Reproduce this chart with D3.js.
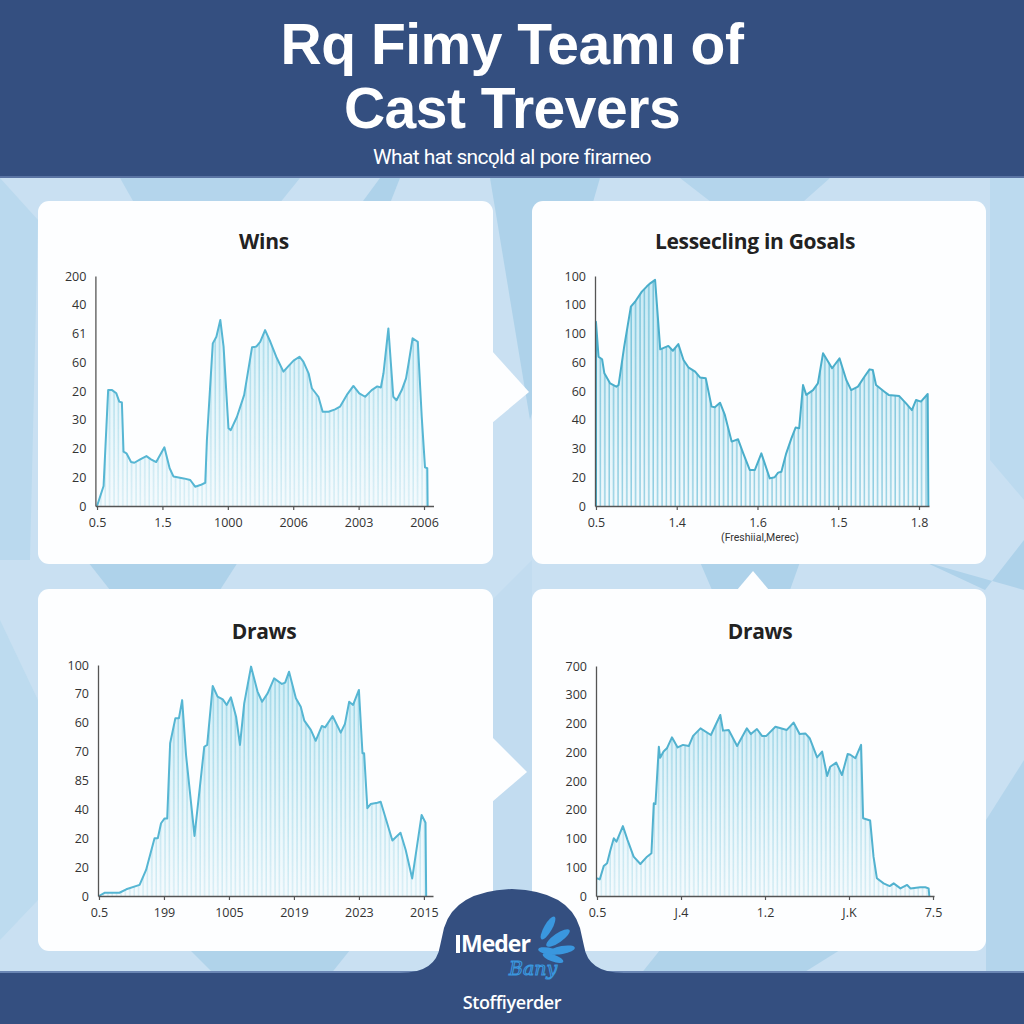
<!DOCTYPE html>
<html><head><meta charset="utf-8">
<script src="https://cdn.jsdelivr.net/npm/d3@7"></script>
<style>
html,body{margin:0;padding:0;background:#c9e0f2;}
svg{display:block;}
</style></head>
<body>
<svg id="chart" width="1024" height="1024"></svg>
<script>
// ---------- DATA ----------
const titleLines = ["Rq Fimy Teamı of", "Cast Trevers"];
const subtitle = "What hat sncǫld al pore firarneo";
const panelTitles = ["Wins", "Lessecling in Gosals", "Draws", "Draws"];
const panel2XLabel = "(Freshiial,Merec)";
const logoMain = "Meder";
const logoScript = "Bany";
const logoSub = "Stoffiyerder";

const winsYTicks = ["0","20","20","30","20","60","61","40","200"];
const winsXTicks = ["0.5","1.5","1000","2006","2003","2006"];
const winsX = [0,2.0,3.4,4.6,5.9,6.8,7.6,8.1,9.0,10.4,11.4,13.2,15.1,16.5,18.1,20.6,22.2,23.4,26.5,28.5,30.0,31.6,33.1,33.6,35.4,36.5,37.7,38.7,40.2,40.9,42.8,45.0,47.4,48.7,49.9,51.4,53.0,54.8,57.0,58.6,60.1,61.9,63.1,64.7,65.7,67.7,69.0,70.8,72.8,74.3,76.4,78.4,80.2,82.0,84.0,85.7,86.8,87.6,89.1,90.6,91.6,93.2,94.5,95.2,96.5,98.1,99.3,100.3,101.0,101.1];
const winsY = [0,8.7,50.4,50.4,49,45.4,45,23.6,22.9,19.1,18.8,20.3,21.7,20.3,19.1,25.5,16.4,12.8,12,11.3,8.4,9.1,10.1,28.7,70.7,73.6,80.9,69.3,33.8,33,38.8,48.3,69,69.3,71.4,76.5,71.4,64.9,58.4,60.9,63.2,64.9,62.8,57.7,51.2,47.5,41,41,42,43.2,48.3,52.2,49,47.5,50.4,52,51.5,57.7,77.2,47.5,46,50.4,55.5,61.3,72.9,71.4,38.8,16.8,16.4,0];

const goalsYTicks = ["0","20","30","40","60","60","100","100","100"];
const goalsXTicks = ["0.5","1.4","1.6","1.5","1.8"];
const goalsX = [0,0,0.8,1.9,2.6,4.4,6.3,7.0,8.7,10.8,12.1,14.2,15.7,16.8,18.3,19.9,22.4,23.8,25.5,27.1,28.6,30.7,32.2,34.0,35.8,36.8,38.4,39.9,42.0,44.0,45.6,47.6,49.2,51.2,53.8,55.3,56.4,57.4,58.9,60.5,61.8,62.9,64.1,65.1,67.2,68.7,70.3,73.1,75.4,77.5,79.0,81.1,83.1,84.7,85.7,86.7,89.3,90.6,93.9,96.0,97.8,99.1,100.6,102.7,102.9];
const goalsY = [0,80.1,64.9,63.8,57.7,53.3,51.9,52.6,69,86.7,88.8,93.2,95.4,96.8,98.3,68.1,69.6,67.5,70.4,63.5,60.3,58.4,55.9,55.5,43.2,42.9,44.9,39.6,28,29,22.9,15.7,15.7,22.9,12,12.5,14.5,14.9,22.9,29.4,34.1,33.8,52.6,48.3,50.4,53.3,66.4,59.9,64.2,54.8,50.4,51.9,56.2,59.4,59.1,52.6,49.7,48.3,47.8,44.6,41.7,46.1,45.4,48.7,0];

const drawsAYTicks = ["0","20","20","40","85","70","60","70","100"];
const drawsAXTicks = ["0.5","199","1005","2019","2023","2015"];
const drawsAX = [0,1.7,6.3,8.4,12.5,14.5,17.1,18.1,19.1,20.2,21.0,21.9,23.5,24.6,25.6,26.8,29.4,31.4,32.4,33.3,35.0,36.5,38.1,39.3,40.6,42.2,43.4,44.7,46.8,48.8,50.2,51.9,53.9,56.3,57.3,58.5,60.6,62.1,63.2,65.2,66.7,68.6,69.6,71.9,74.4,75.7,77.0,78.2,80.0,81.1,81.6,82.6,83.6,85.7,86.7,90.3,92.8,94.4,96.4,99.3,100.5,100.7];
const drawsAY = [0,1.4,1.4,2.9,4.8,11.3,25,25,31.5,33.6,33.6,66.1,76.9,76.9,84.8,61,26,51.7,64.6,65.4,90.9,86.3,85.1,82.7,86,77.6,65.4,83.4,99.3,88.5,84.1,87.7,94.2,91.8,92.4,97.1,85.6,81.9,75.9,71.9,67.2,73.6,73,77.9,70.7,74.5,84.1,82.7,89.2,61.8,61.8,38,39.8,40.4,40.8,24,27.4,19.9,7.6,35.1,31.7,0];

const drawsBYTicks = ["0","100","100","200","200","200","200","300","700"];
const drawsBXTicks = ["0.5","J.4","1.2","J.K","7.5"];
const drawsBX = [0,0.8,2.0,3.0,4.0,5.0,5.8,7.7,9.1,10.9,12.9,14.9,16.2,16.9,17.4,18.4,18.8,19.8,20.8,22.3,24.0,25.6,27.3,28.6,30.8,33.9,36.7,37.5,39.2,41.7,44.6,45.8,47.6,49.1,50.4,53.1,56.5,58.5,60.3,62.0,63.3,65.5,67.0,68.5,69.4,71.2,72.9,74.6,75.4,76.9,78.6,79.2,81.3,82.3,83.3,85.3,87.1,88.3,90.3,92.3,93.3,96.2,97.7,98.7,98.9];
const drawsBY = [7.7,7.2,13,14.2,20,25.1,23.6,30.4,24.3,17.1,13.9,17.1,18.6,40.3,40,64.9,60.1,62.8,64.2,69,64.6,65.7,65.2,69.6,72.9,70,78.7,71.9,72.2,65.2,72.9,70.4,72.6,69.6,69.6,73.6,72.2,75.4,70.4,70.7,68.6,60.3,62.8,52.2,56.2,58,52.6,61.7,61.4,59.9,65.7,33.8,32.8,17.1,7.7,5.5,4.3,5.5,3.3,4.8,3.3,3.8,3.8,3.3,0];

// ---------- LAYOUT ----------
const svg = d3.select("#chart");
const W = 1024, H = 1024;
const defs = svg.append("defs");

// background
svg.append("rect").attr("width", W).attr("height", H).attr("fill", "#c9e0f2");
const bgShapes = [
  {pts:[[120,178],[155,240],[250,240],[300,178]], c:"#b4d5ec"},
  {pts:[[380,178],[290,300],[340,330],[400,178]], c:"#aed2ea"},
  {pts:[[490,178],[530,420],[600,178]], c:"#aed2ea"},
  {pts:[[680,178],[760,240],[830,178]], c:"#b4d5ec"},
  {pts:[[0,178],[0,560],[30,560],[38,220]], c:"#bad9ee"},
  {pts:[[990,178],[1024,178],[1024,500],[990,460]], c:"#bcdaef"},
  {pts:[[88,562],[110,590],[220,590],[238,562]], c:"#aed2ea"},
  {pts:[[700,562],[712,590],[790,590],[800,562]], c:"#aed2ea"},
  {pts:[[925,562],[985,590],[1024,540],[1024,590]], c:"#aed2ea"},
  {pts:[[0,620],[38,700],[38,900],[0,940]], c:"#bddbef"},
  {pts:[[190,950],[215,975],[330,975],[350,950]], c:"#b0d3ea"},
  {pts:[[660,950],[640,975],[800,975],[840,950]], c:"#b0d3ea"},
  {pts:[[986,820],[1024,760],[1024,975],[986,975]], c:"#b4d5ec"},
  {pts:[[492,600],[532,560],[532,940],[492,940]], c:"#c2dcf0"}
];
svg.append("g").selectAll("polygon").data(bgShapes).join("polygon")
  .attr("points", d => d.pts.map(p => p.join(",")).join(" "))
  .attr("fill", d => d.c);

// header
svg.append("rect").attr("x",0).attr("y",0).attr("width",W).attr("height",178).attr("fill","#344f80");
svg.append("rect").attr("x",0).attr("y",176).attr("width",W).attr("height",2).attr("fill","#5a74a3");
const titleFont = "'Open Sans', 'Noto Sans', sans-serif";
svg.append("g").selectAll("text").data(titleLines).join("text")
  .attr("x", 512).attr("y", (d,i) => 64 + i*64)
  .attr("text-anchor","middle").attr("fill","#ffffff")
  .attr("font-family", "'Liberation Sans', Arial, sans-serif").attr("font-weight", 700).attr("font-size", 57)
  .attr("letter-spacing", -0.5)
  .text(d => d);
svg.append("text").attr("x",512).attr("y",164).attr("text-anchor","middle")
  .attr("fill","#ffffff").attr("font-family","Roboto, sans-serif").attr("font-size",21)
  .attr("letter-spacing",-0.6)
  .text(subtitle);

// cards
const cards = [
  {x:38,y:201,w:455,h:363},
  {x:532,y:201,w:454,h:363},
  {x:38,y:589,w:455,h:362},
  {x:532,y:589,w:454,h:362}
];
svg.append("g").selectAll("rect").data(cards).join("rect")
  .attr("x",d=>d.x).attr("y",d=>d.y).attr("width",d=>d.w).attr("height",d=>d.h)
  .attr("rx",11).attr("fill","#fdfeff");
// arrows / notches
const notches = [
  [[492,351],[529,392],[492,423]],
  [[492,737],[527,772],[492,802]],
  [[737,590],[753,571],[769,590]]
];
svg.append("g").selectAll("polygon").data(notches).join("polygon")
  .attr("points", d => d.map(p=>p.join(",")).join(" ")).attr("fill","#fdfeff");

// panels
const panels = [
  {title:panelTitles[0], tx:264, ty:249, xs:winsX, ys:winsY, yt:winsYTicks, xt:winsXTicks,
   xDom:[-0.5,102.9], xRange:[95.4,433.5], yRange:[506,276], stripe:"#86cbe0", fillTop:"#c7ebf5", line:"#56b6d3", fade:true},
  {title:panelTitles[1], tx:755, ty:249, xs:goalsX, ys:goalsY, yt:goalsYTicks, xt:goalsXTicks,
   xDom:[-0.3,103.1], xRange:[595,929], yRange:[506,276], stripe:"#62b9d4", fillTop:"#bfe6f2", line:"#4aaecb", fade:false},
  {title:panelTitles[2], tx:264, ty:639, xs:drawsAX, ys:drawsAY, yt:drawsAYTicks, xt:drawsAXTicks,
   xDom:[-0.3,102.8], xRange:[98,433], yRange:[896,665], stripe:"#86cbe0", fillTop:"#c7ebf5", line:"#56b6d3", fade:true},
  {title:panelTitles[3], tx:760, ty:639, xs:drawsBX, ys:drawsBY, yt:drawsBYTicks, xt:drawsBXTicks,
   xDom:[-0.3,100.3], xRange:[596,934], yRange:[896,666], stripe:"#7cc6dc", fillTop:"#c3e8f4", line:"#52b2cf", fade:true}
];

const axisFont = "'Open Sans', 'Noto Sans', sans-serif";

panels.forEach((p, i) => {
  const x = d3.scaleLinear().domain(p.xDom).range(p.xRange);
  const y = d3.scaleLinear().domain([0,100]).range(p.yRange);
  const data = p.xs.map((v,k) => ({x:v, y:p.ys[k]}));
  const g = svg.append("g");

  const gid = "grad"+i, pid = "pat"+i, mid = "mask"+i, mgid = "mgrad"+i;
  const lg = defs.append("linearGradient").attr("id",gid)
    .attr("gradientUnits","userSpaceOnUse").attr("x1",0).attr("x2",0).attr("y1",p.yRange[1]).attr("y2",p.yRange[0]);
  lg.append("stop").attr("offset",0).attr("stop-color",p.fillTop).attr("stop-opacity",0.85);
  lg.append("stop").attr("offset",1).attr("stop-color","#eef8fc").attr("stop-opacity",p.fade?0.6:0.9);
  const pat = defs.append("pattern").attr("id",pid).attr("patternUnits","userSpaceOnUse")
    .attr("width",4.4).attr("height",10).attr("x",p.xRange[0]);
  pat.append("line").attr("x1",1).attr("x2",1).attr("y1",0).attr("y2",10)
    .attr("stroke",p.stripe).attr("stroke-width",1.1);
  const mg = defs.append("linearGradient").attr("id",mgid).attr("gradientUnits","userSpaceOnUse")
    .attr("x1",0).attr("x2",0).attr("y1",p.yRange[1]).attr("y2",p.yRange[0]);
  mg.append("stop").attr("offset",0).attr("stop-color","#fff").attr("stop-opacity",1);
  mg.append("stop").attr("offset",1).attr("stop-color","#fff").attr("stop-opacity",p.fade?0.35:0.85);
  const mask = defs.append("mask").attr("id",mid).attr("maskUnits","userSpaceOnUse")
    .attr("x",0).attr("y",0).attr("width",W).attr("height",H);
  mask.append("rect").attr("x",0).attr("y",0).attr("width",W).attr("height",H).attr("fill","url(#"+mgid+")");

  const area = d3.area().x(d=>x(d.x)).y0(y(0)).y1(d=>y(d.y));
  const line = d3.line().x(d=>x(d.x)).y(d=>y(d.y));
  g.append("path").datum(data).attr("d",area).attr("fill","url(#"+gid+")");
  g.append("path").datum(data).attr("d",area).attr("fill","url(#"+pid+")").attr("mask","url(#"+mid+")");
  g.append("path").datum(data).attr("d",line).attr("fill","none")
    .attr("stroke",p.line).attr("stroke-width",2).attr("stroke-linejoin","round");

  const yTickVals = p.yt.map((t,k) => k*12.5);
  const yAxis = d3.axisLeft(y).tickValues(yTickVals).tickFormat((d,k)=>p.yt[k]).tickSize(0).tickPadding(9);
  const ya = g.append("g").attr("transform","translate("+p.xRange[0]+",0)").call(yAxis);
  ya.select(".domain").attr("stroke","#555").attr("stroke-width",1.3);
  ya.selectAll("text").attr("font-family",axisFont).attr("font-size",12.5).attr("fill","#333");

  const xTickVals = p.xt.map((t,k) => k*100/(p.xt.length-1));
  const xAxis = d3.axisBottom(x).tickValues(xTickVals).tickFormat((d,k)=>p.xt[k]).tickSize(4).tickSizeOuter(0).tickPadding(8);
  const xa = g.append("g").attr("transform","translate(0,"+p.yRange[0]+")").call(xAxis);
  xa.select(".domain").attr("stroke","#555").attr("stroke-width",1.3);
  xa.selectAll(".tick line").attr("stroke","#555").attr("stroke-width",1.2);
  xa.selectAll("text").attr("font-family",axisFont).attr("font-size",12.5).attr("fill","#333");

  svg.append("text").attr("x",p.tx).attr("y",p.ty).attr("text-anchor","middle")
    .attr("font-family",axisFont).attr("font-weight",700).attr("font-size",21).attr("fill","#222")
    .attr("letter-spacing",-0.3).text(p.title);
});
svg.append("text").attr("x",760).attr("y",541).attr("text-anchor","middle")
  .attr("font-family","Roboto, sans-serif").attr("font-size",10.5).attr("fill","#333").text(panel2XLabel);

// footer
svg.append("rect").attr("x",0).attr("y",973).attr("width",W).attr("height",51).attr("fill","#344f80");
svg.append("rect").attr("x",0).attr("y",971).attr("width",W).attr("height",2).attr("fill","#6a86b4");
svg.append("path")
  .attr("d","M400,973 Q436,973 440,946 L444,928 Q455,891 512,889 Q569,891 580,928 L584,946 Q588,973 624,973 Z")
  .attr("fill","#344f80");
const leaves = [
  {cx:548,cy:928,rx:13,ry:4,a:-60},
  {cx:558,cy:938,rx:14,ry:4.5,a:-35},
  {cx:562,cy:950,rx:13,ry:4,a:-10},
  {cx:548,cy:951,rx:10,ry:3.5,a:10},
  {cx:553,cy:958,rx:11,ry:3.5,a:20}
];
svg.append("g").selectAll("ellipse").data(leaves).join("ellipse")
  .attr("cx",d=>d.cx).attr("cy",d=>d.cy).attr("rx",d=>d.rx).attr("ry",d=>d.ry)
  .attr("transform",d=>"rotate("+d.a+","+d.cx+","+d.cy+")").attr("fill","#3a97de");
svg.append("rect").attr("x",456).attr("y",935).attr("width",4).attr("height",18).attr("fill","#fff");
svg.append("text").attr("x",461).attr("y",952).attr("font-family",titleFont).attr("font-weight",700)
  .attr("font-size",23).attr("letter-spacing",-1).attr("fill","#fff").text(logoMain);
svg.append("text").attr("x",509).attr("y",975).attr("font-family","'DejaVu Serif', serif").attr("font-style","italic")
  .attr("font-size",19).attr("fill","none").attr("stroke","#3a97de").attr("stroke-width",1.1).text(logoScript);
svg.append("text").attr("x",512).attr("y",1009).attr("text-anchor","middle").attr("font-family",titleFont)
  .attr("font-weight",600).attr("font-size",18).attr("letter-spacing",-0.4).attr("fill","#fff").text(logoSub);
</script>
</body></html>
